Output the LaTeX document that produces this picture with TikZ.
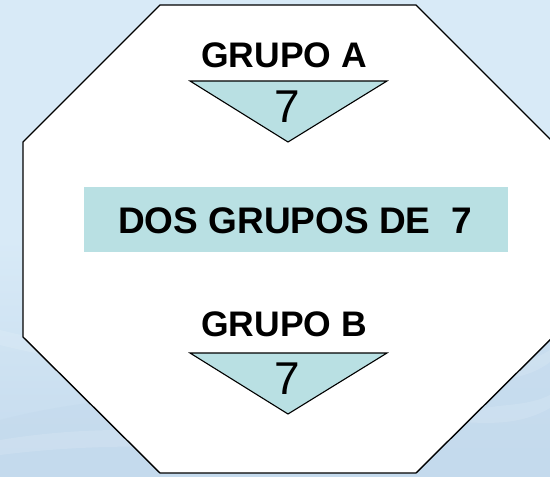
\documentclass[tikz,border=0pt]{standalone}
\usepackage{fontspec}
\setmainfont{Liberation Sans}
\definecolor{bgtop}{HTML}{D8EAF7}
\definecolor{bgbot}{HTML}{C4DAED}
\definecolor{teal}{HTML}{B9E0E3}
\tikzset{
  octa/.style={draw=black, line width=1.4pt, fill=white, line join=miter},
  tri/.style={draw=black, line width=1.1pt, fill=teal, line join=miter},
  grupo/.style={font=\bfseries\fontsize{35.5}{40}\selectfont, anchor=base, inner sep=0pt},
  num/.style={font=\fontsize{46}{50}\selectfont, anchor=base, inner sep=0pt},
  boxtext/.style={font=\bfseries\fontsize{37}{40}\selectfont, anchor=base, inner sep=0pt},
  wave/.style={fill=white, opacity=0.12}
}
\begin{document}
\begin{tikzpicture}[x=1pt,y=-1pt]
\useasboundingbox (0,0) rectangle (550,477);
% background
\shade[top color=bgtop, bottom color=bgbot, middle color=bgtop] (0,0) rectangle (550,477);
\fill[bgbot, opacity=0.6] (0,420) .. controls (150,380) and (350,400) .. (550,330) -- (550,477) -- (0,477) -- cycle;
\fill[wave] (0,330) .. controls (80,350) and (180,360) .. (300,400) .. controls (180,375) and (80,365) .. (0,345) -- cycle;
\fill[wave] (0,440) .. controls (120,420) and (250,430) .. (360,470) .. controls (250,445) and (120,440) .. (0,455) -- cycle;
\fill[wave] (430,380) .. controls (480,360) and (520,370) .. (550,350) -- (550,362) .. controls (520,385) and (480,380) .. cycle;
\fill[wave] (440,420) .. controls (490,400) and (520,410) .. (550,395) -- (550,408) .. controls (520,425) and (490,425) .. cycle;
% octagon
\draw[octa] (160,5) coordinate (o1) -- (416,5) coordinate (o2) -- (553,142) coordinate (o3) -- (553,337) coordinate (o4)
  -- (416,473) coordinate (o5) -- (160,473) coordinate (o6) -- (23,337) coordinate (o7) -- (23,142) coordinate (o8) -- cycle;
% group A
\node[grupo] (ga) at (284,67) {GRUPO A};
\draw[tri] (190,81) coordinate (ta1) -- (387,81) coordinate (ta2) -- (288,142) coordinate (ta3) -- cycle;
\node[num] (na) at (287.5,122) {7};
% central box
\node[fill=teal, minimum width=424pt, minimum height=65pt, inner sep=0pt] (box) at (296,219.5) {};
\node[boxtext] (bt) at (295,233) {DOS GRUPOS DE\ \ 7};
% group B
\node[grupo] (gb) at (284,336) {GRUPO B};
\draw[tri] (190,353) coordinate (tb1) -- (387,353) coordinate (tb2) -- (288,414) coordinate (tb3) -- cycle;
\node[num] (nb) at (287.5,394) {7};
\end{tikzpicture}
\end{document}
